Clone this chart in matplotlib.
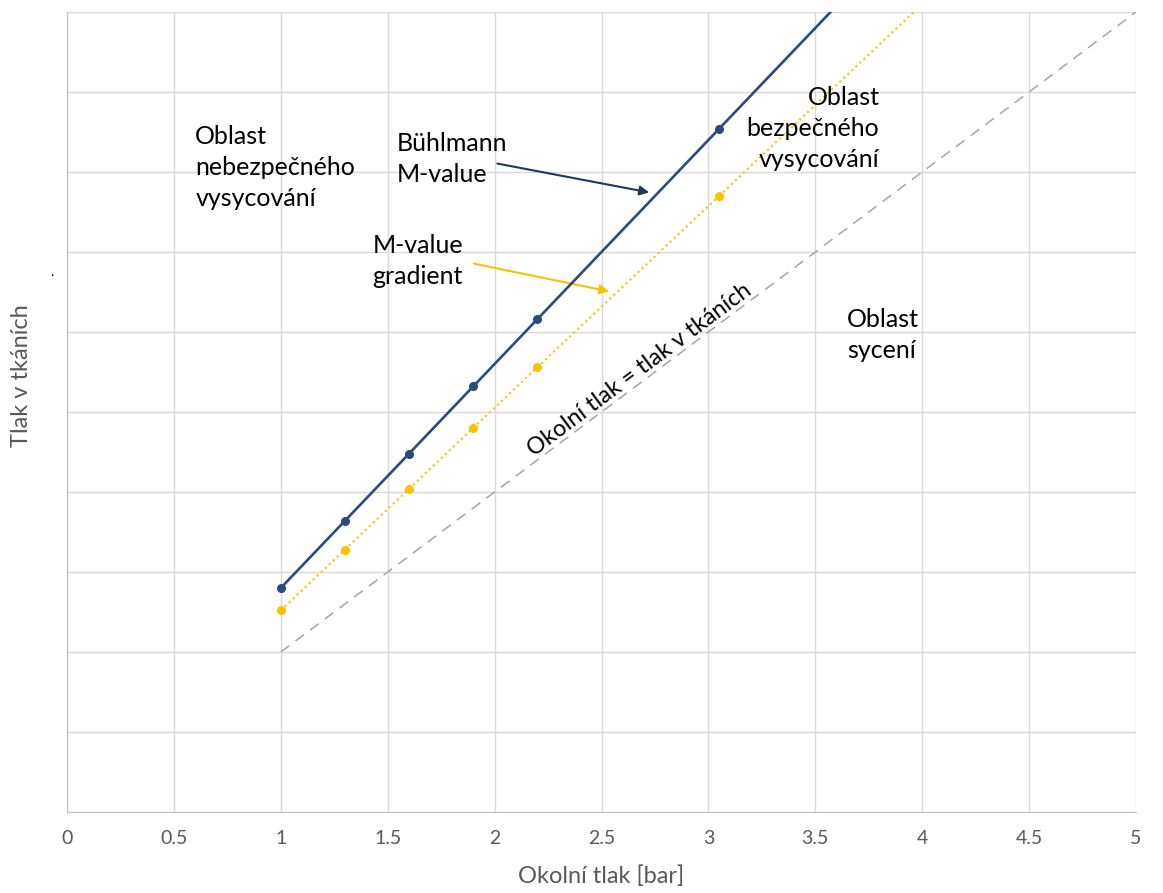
import matplotlib.pyplot as plt

# Bühlmann M-value (plná modrá) a M-value gradient (žlutá tečkovaná)
x_pts = [1, 1.3, 1.6, 1.9, 2.2, 3.05]
buhlmann = [1.40, 1.82, 2.24, 2.66, 3.08, 4.27]
gradient = [1.26, 1.64, 2.02, 2.40, 2.78, 3.85]

# pokračování čar za horní okraj grafu
buhlmann_ext_x = [3.05, 3.6]
buhlmann_ext_y = [4.27, 5.04]
gradient_ext_x = [3.05, 4.0]
gradient_ext_y = [3.85, 5.05]

# okolní tlak = tlak v tkáních
ambient_x = [1, 5]
ambient_y = [1, 5]

x_ticks = [0, 0.5, 1, 1.5, 2, 2.5, 3, 3.5, 4, 4.5, 5]
y_ticks = [0, 0.5, 1, 1.5, 2, 2.5, 3, 3.5, 4, 4.5, 5]

blue = '#2B4A80'
yellow = '#FFC000'
navy = '#1F3864'
gray_txt = '#595959'
font = ['Lato', 'DejaVu Sans']

plt.rcParams['font.family'] = font

fig = plt.figure(figsize=(11.63, 8.93), dpi=100)
ax = fig.add_axes([67 / 1163, 1 - 812 / 893, (1136 - 67) / 1163, (812 - 12) / 893])

ax.plot(ambient_x, ambient_y, color='#A6A6A6', lw=1.1, dashes=(7, 5), zorder=2)
ax.plot(x_pts, gradient, color=yellow, lw=1.5, ls=':', marker='o', ms=5.5, zorder=3)
ax.plot(gradient_ext_x, gradient_ext_y, color=yellow, lw=1.5, ls=':', zorder=3)
ax.plot(x_pts, buhlmann, color=blue, lw=1.9, marker='o', ms=5.5, zorder=4)
ax.plot(buhlmann_ext_x, buhlmann_ext_y, color=blue, lw=1.9, zorder=4)

ax.set_xlim(0, 5)
ax.set_ylim(0, 5)
ax.set_xticks(x_ticks)
ax.set_xticklabels([f'{t:g}' for t in x_ticks])
ax.set_yticks(y_ticks)
ax.set_yticklabels([])
ax.tick_params(length=0, labelsize=14, colors=gray_txt, pad=13)
ax.grid(True, color='#D9D9D9', lw=1)
ax.set_axisbelow(True)
for s in ['top', 'right']:
    ax.spines[s].set_visible(False)
for s in ['left', 'bottom']:
    ax.spines[s].set_color('#BFBFBF')

ax.set_xlabel('Okolní tlak [bar]', fontsize=17, color=gray_txt, labelpad=13)
fig.text(22 / 1163, 1 - 376 / 893, 'Tlak v tkáních', rotation=90, fontsize=17,
         color=gray_txt, ha='center', va='center')
fig.text(52 / 1163, 1 - 272 / 893, '.', fontsize=10, color='black', ha='center', va='center')

kw = dict(fontsize=18, color='black', linespacing=1.42, va='center')
ax.text(0.6, 4.03, 'Oblast\nnebezpečného\nvysycování', ha='left', **kw)
ax.text(3.80, 4.27, 'Oblast\nbezpečného\nvysycování', ha='right', **kw)
ax.text(3.65, 2.98, 'Oblast\nsycení', ha='left', **kw)
ax.text(1.54, 4.08, 'Bühlmann\nM-value', ha='left', **kw)
ax.text(1.43, 3.445, 'M-value\ngradient', ha='left', **kw)
ax.text(2.68, 2.76, 'Okolní tlak = tlak v tkáních', rotation=36.8, rotation_mode='anchor',
        ha='center', va='center', fontsize=16.8, color='black')

ax.annotate('', xy=(2.736, 3.869), xytext=(2.0, 4.056),
            arrowprops=dict(arrowstyle='-|>', color=navy, lw=1.5, mutation_scale=14))
ax.annotate('', xy=(2.549, 3.25), xytext=(1.89, 3.431),
            arrowprops=dict(arrowstyle='-|>', color=yellow, lw=1.5, mutation_scale=14))

fig.savefig('out.png', dpi=100)
